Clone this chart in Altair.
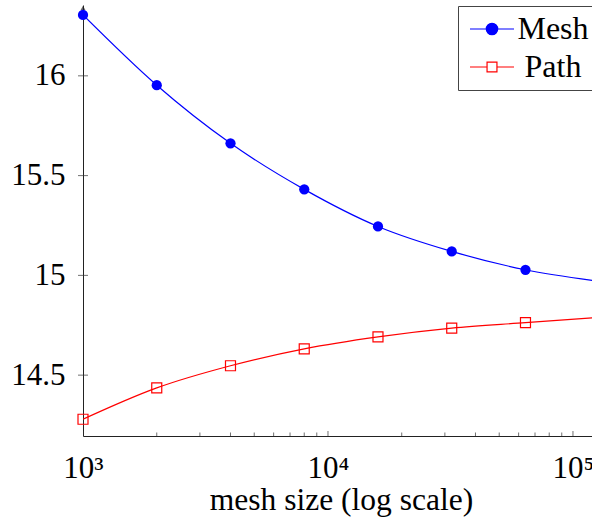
import altair as alt
import pandas as pd

# ---- data ----
sizes = [1000, 2000, 4000, 8000, 16000, 32000, 64000, 128000]
mesh = [16.305, 15.953, 15.662, 15.431, 15.245, 15.120, 15.028, 14.970]
path = [14.279, 14.436, 14.547, 14.632, 14.692, 14.736, 14.763, 14.790]
series = ["Mesh", "Path"]
x_ticks_major = [1000, 10000, 100000]
x_ticks_minor = [2000, 3000, 4000, 5000, 6000, 7000, 8000, 9000,
                 20000, 30000, 40000, 50000, 60000, 70000, 80000, 90000]
y_ticks = [14.5, 15, 15.5, 16]

XMIN, XMAX = 1000, 119600
YMIN, YMAX = 14.195, 16.355

rows = []
for s, vals in zip(series, [mesh, path]):
    for x, v in zip(sizes, vals):
        rows.append({"size": x, "value": v, "series": s})
df = pd.DataFrame(rows)

FONT = "Liberation Serif"
FS = 31
xscale = alt.Scale(type="log", domain=[XMIN, XMAX], nice=False)
yscale = alt.Scale(domain=[YMIN, YMAX], nice=False, zero=False)
stroke_scale = alt.Scale(domain=series, range=["#0000ff", "#ff0000"])

leg = alt.Legend(title=None, orient="none", legendX=375, legendY=1,
                 labelFont=FONT, labelFontSize=32, labelColor="black",
                 labelAlign="center", labelOffset=56, padding=7, rowPadding=6,
                 strokeColor="#444", fillColor="white", symbolSize=484,
                 symbolStrokeWidth=1.2, symbolOpacity=1)
mesh_sym = "M-1,0H3M1.52,0A0.52,0.52,0,1,1,0.48,0A0.52,0.52,0,1,1,1.52,0Z"
path_sym = "M-1,0H0.55M1.45,0H3M0.55,-0.45H1.45V0.45H0.55Z"

x_enc = alt.X("size:Q", scale=xscale,
              axis=alt.Axis(values=x_ticks_major,
                            labelExpr="datum.value == 1000 ? '10³' : datum.value == 10000 ? '10⁴' : '10⁵'",
                            title="mesh size (log scale)", ticks=False, grid=False,
                            labelPadding=17, titlePadding=1, labelFlush=False,
                            labelOverlap=False, titleFontSize=31.5, titleX=258))
y_enc = alt.Y("value:Q", scale=yscale,
              axis=alt.Axis(values=y_ticks, format="~g", title=None, ticks=False,
                            grid=False, labelPadding=18, labelOverlap=False))

lines = alt.Chart(df).mark_line(interpolate="monotone", strokeWidth=1.2, clip=True).encode(
    x=x_enc, y=y_enc,
    stroke=alt.Stroke("series:N", scale=stroke_scale, legend=leg),
    detail="series:N",
)

mesh_pts = alt.Chart(df).transform_filter("datum.series == 'Mesh'").mark_point(
    shape="circle", filled=True, size=105, color="#0000ff", opacity=1
).encode(x=alt.X("size:Q", scale=xscale), y=alt.Y("value:Q", scale=yscale))

path_pts = alt.Chart(df).transform_filter("datum.series == 'Path'").mark_point(
    shape="square", filled=False, stroke="#ff0000", strokeWidth=1.2,
    size=100, opacity=1
).encode(x=alt.X("size:Q", scale=xscale), y=alt.Y("value:Q", scale=yscale))

# legend carrier: only the off-plot last sample, clipped away by the plot area
legend_layer = alt.Chart(df).transform_filter("datum.size == 128000").mark_point(clip=True, opacity=1).encode(
    x=alt.X("size:Q", scale=xscale), y=alt.Y("value:Q", scale=yscale),
    stroke=alt.Stroke("series:N", scale=stroke_scale, legend=leg),
    fill=alt.Fill("series:N", scale=alt.Scale(domain=series, range=["#0000ff", "#ffffff"]), legend=leg),
    shape=alt.Shape("series:N", scale=alt.Scale(domain=series, range=[mesh_sym, path_sym]), legend=leg),
)

tick_df_major = pd.DataFrame({"t": x_ticks_major})
tick_df_minor = pd.DataFrame({"t": x_ticks_minor})
ytick_df = pd.DataFrame({"t": y_ticks})

xt_major = alt.Chart(tick_df_major).mark_tick(orient="vertical", size=10, thickness=1, color="#333", clip=True).encode(
    x=alt.X("t:Q", scale=xscale), y=alt.YDatum(YMIN, scale=yscale))
xt_minor = alt.Chart(tick_df_minor).mark_tick(orient="vertical", size=7, thickness=1, color="#333", clip=True).encode(
    x=alt.X("t:Q", scale=xscale), y=alt.YDatum(YMIN, scale=yscale))
yt = alt.Chart(ytick_df).mark_tick(orient="horizontal", size=10, thickness=1, color="#333").encode(
    y=alt.Y("t:Q", scale=yscale), x=alt.XDatum(XMIN, scale=xscale))
arrow = alt.Chart(pd.DataFrame({"a": [0]})).mark_point(
    shape="triangle-up", filled=True, size=25, color="#222", yOffset=3).encode(
    x=alt.XDatum(XMIN, scale=xscale), y=alt.YDatum(YMAX, scale=yscale))

chart = alt.layer(lines, xt_major, xt_minor, yt, arrow, legend_layer, mesh_pts, path_pts).properties(
    width=509, height=431,
    autosize=alt.AutoSizeParams(type="none"),
    padding={"left": 83, "top": 5, "right": 0, "bottom": 83},
    background="white",
).configure_view(stroke=None).configure_axis(
    labelFont=FONT, labelFontSize=FS, labelColor="black",
    titleFont=FONT, titleFontSize=31.5, titleFontWeight="normal", titleColor="black",
    domainColor="#222", domainWidth=1,
)

chart.save("out.html", embed_options={"renderer": "svg", "actions": False})
